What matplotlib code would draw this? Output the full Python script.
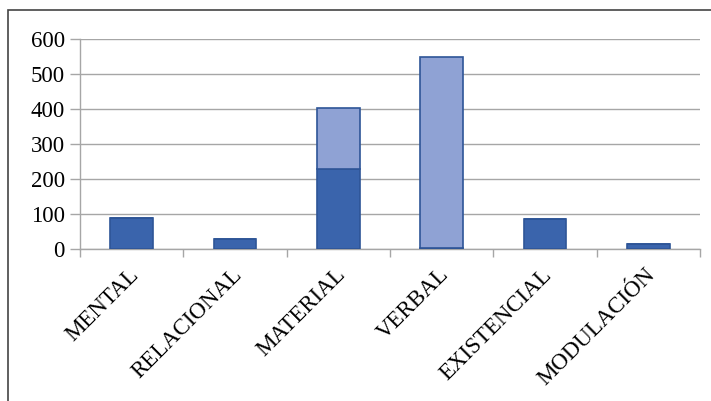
import matplotlib.pyplot as plt
import matplotlib.transforms as mtransforms
from matplotlib.patches import Rectangle
import numpy as np

categorias = ['MENTAL', 'RELACIONAL', 'MATERIAL', 'VERBAL', 'EXISTENCIAL', 'MODULACIÓN']
serie_1 = [88, 28, 228, 5, 86, 16]
serie_2 = [0, 0, 175, 543, 0, 0]

plt.rcParams['font.family'] = ['Liberation Serif', 'DejaVu Serif']

fig = plt.figure(figsize=(7.11, 4.01), dpi=100)
ax = fig.add_axes([80 / 711, 1 - 249.3 / 401, 620 / 711, 210.3 / 401])

# marco exterior (solo se ven los lados izquierdo y superior)
fig.patches.append(Rectangle((8 / 711, -0.1), 1.2, 1.1 - 10 / 401,
                             transform=fig.transFigure, fill=False,
                             edgecolor='#444444', linewidth=1.2))

x = np.arange(len(categorias))
ancho = 0.41
ax.bar(x, serie_1, ancho, color='#3A64AC', edgecolor='#2E5597', linewidth=1.2, zorder=3)
ax.bar(x, serie_2, ancho, bottom=serie_1, color='#8FA2D4', edgecolor='#2E5597',
       linewidth=1.2, zorder=3)

ax.set_xlim(-0.5, len(categorias) - 0.5)
ax.set_ylim(0, 600)
ax.set_yticks(range(0, 601, 100))
ax.yaxis.grid(True, color='#A6A6A6', linewidth=1)
ax.set_axisbelow(True)

for s in ['top', 'right']:
    ax.spines[s].set_visible(False)
for s in ['left', 'bottom']:
    ax.spines[s].set_color('#A6A6A6')
    ax.spines[s].set_linewidth(1)

ax.set_xticks(x)
ax.set_xticklabels(categorias, rotation=45, ha='right', va='center',
                   rotation_mode='anchor', fontsize=16.5)
ax.tick_params(axis='x', length=0, pad=16)
desplaz = mtransforms.ScaledTranslation(4 / 100, 0, fig.dpi_scale_trans)
for lbl in ax.get_xticklabels():
    lbl.set_transform(lbl.get_transform() + desplaz)
ax.set_xticks(np.arange(-0.5, len(categorias)), minor=True)
ax.tick_params(axis='x', which='minor', length=6, color='#A6A6A6', width=1)
ax.tick_params(axis='y', length=7, color='#A6A6A6', width=1, labelsize=16.5, pad=4)

fig.savefig('out.png', dpi=100)
